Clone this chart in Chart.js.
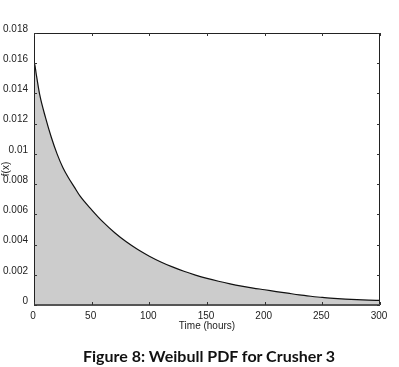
<!DOCTYPE html>
<html>
<head>
<meta charset="utf-8">
<script src="https://cdn.jsdelivr.net/npm/chart.js@4"></script>
<style>
  html, body { margin: 0; padding: 0; background: #fff; }
  #wrap { position: relative; width: 399px; height: 367px; }
  #c { position: absolute; left: 0; top: 0; }
  #caption { position: absolute; left: 19px; width: 380px; top: 346px; text-align: center;
    font-family: "Lato", "Open Sans", sans-serif; font-weight: bold; font-size: 16px; color: #111; }
</style>
</head>
<body>
<div id="wrap">
  <canvas id="c" width="399" height="367"></canvas>
  <div id="caption">Figure 8: Weibull PDF for Crusher 3</div>
</div>
<script>
const timeHours = [0, 0, 2, 5, 10, 15, 20, 25, 30, 35, 40, 50, 60, 70, 80, 90, 100, 110, 120, 130, 140, 150, 160, 170, 180, 190, 200, 210, 220, 230, 240, 250, 260, 270, 280, 290, 300];
const pdfValues = [0, 0.0161, 0.01525, 0.0139, 0.0124, 0.0111, 0.0100, 0.0091, 0.0084, 0.0078, 0.0072, 0.0063, 0.00548, 0.00478, 0.00418, 0.00367, 0.00323, 0.00285, 0.00252, 0.00223, 0.00198, 0.00176, 0.00157, 0.00140, 0.00125, 0.00112, 0.00101, 0.00089, 0.00078, 0.00067, 0.00058, 0.00050, 0.00044, 0.00039, 0.00035, 0.00032, 0.00030];
const xTickLabels = ['0', '50', '100', '150', '200', '250', '300'];
const yTickLabels = ['0', '0.002', '0.004', '0.006', '0.008', '0.01', '0.012', '0.014', '0.016', '0.018'];
const xAxisTitle = 'Time (hours)';
const yAxisTitle = 'f(x)';

const points = timeHours.map((t, i) => ({ x: t, y: pdfValues[i] }));

const boxPlugin = {
  id: 'box',
  afterDatasetsDraw(chart) {
    const { ctx, chartArea: a, scales } = chart;
    ctx.save();
    ctx.strokeStyle = '#222';
    ctx.lineWidth = 1;
    ctx.beginPath();
    ctx.moveTo(a.left + 0.5, a.bottom);
    ctx.lineTo(a.left + 0.5, a.top + 0.5);
    ctx.lineTo(a.right - 0.5, a.top + 0.5);
    ctx.lineTo(a.right - 0.5, a.bottom);
    ctx.stroke();
    ctx.strokeStyle = '#555';
    ctx.lineWidth = 2;
    ctx.beginPath();
    ctx.moveTo(a.left, a.bottom);
    ctx.lineTo(a.right, a.bottom);
    ctx.stroke();
    ctx.strokeStyle = '#333';
    ctx.lineWidth = 1;
    ctx.beginPath();
    scales.x.ticks.forEach(t => {
      const px = Math.round(scales.x.getPixelForValue(t.value)) + 0.5;
      ctx.moveTo(px, a.bottom); ctx.lineTo(px, a.bottom - 3);
      ctx.moveTo(px, a.top); ctx.lineTo(px, a.top + 3);
    });
    scales.y.ticks.forEach(t => {
      const py = Math.round(scales.y.getPixelForValue(t.value)) + 0.5;
      ctx.moveTo(a.left, py); ctx.lineTo(a.left + 3, py);
      ctx.moveTo(a.right, py); ctx.lineTo(a.right - 3, py);
    });
    ctx.stroke();
    ctx.restore();
  }
};

new Chart(document.getElementById('c'), {
  type: 'scatter',
  data: {
    datasets: [{
      data: points,
      showLine: true,
      fill: 'origin',
      backgroundColor: '#cccccc',
      borderColor: '#111',
      borderWidth: 1.2,
      pointRadius: 0,
      cubicInterpolationMode: 'monotone'
    }]
  },
  options: {
    responsive: false,
    animation: false,
    events: [],
    layout: { padding: { left: 0, right: 19, top: 33, bottom: 35 } },
    plugins: { legend: { display: false }, tooltip: { enabled: false } },
    scales: {
      x: {
        type: 'linear', min: 0, max: 300,
        afterFit(s) { s.height = 27; },
        border: { display: false },
        grid: { display: false, drawTicks: false },
        ticks: {
          stepSize: 50, padding: 5, labelOffset: -1, maxRotation: 0,
          color: '#222', font: { family: 'Liberation Sans', size: 10 },
          callback: (v, i) => xTickLabels[i]
        },
        title: { display: true, text: xAxisTitle, color: '#222', padding: { top: 0, bottom: 0 },
          font: { family: 'Liberation Sans', size: 10 } }
      },
      y: {
        type: 'linear', min: 0, max: 0.018,
        afterFit(s) { s.width = 34; },
        border: { display: false },
        grid: { display: false, drawTicks: false },
        ticks: {
          stepSize: 0.002, padding: 6, labelOffset: -4,
          color: '#222', font: { family: 'Liberation Sans', size: 10 },
          callback: (v, i) => yTickLabels[i]
        },
        title: { display: true, text: yAxisTitle, color: '#222', padding: 0,
          font: { family: 'Liberation Sans', size: 10 } }
      }
    }
  },
  plugins: [boxPlugin]
});
</script>
</body>
</html>
